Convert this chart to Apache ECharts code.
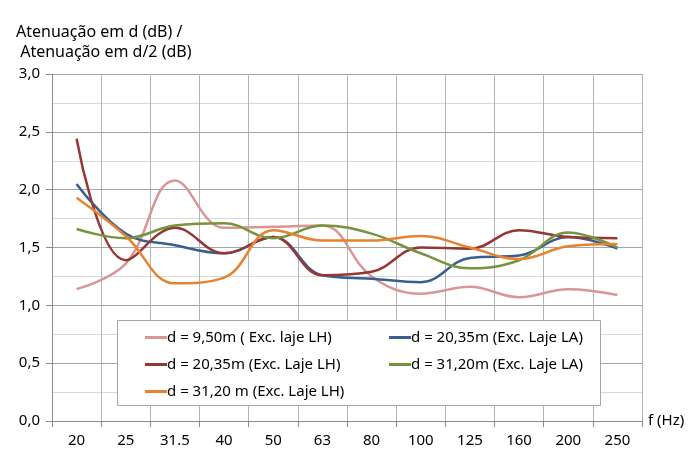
<!DOCTYPE html>
<html>
<head>
<meta charset="utf-8">
<script src="https://cdn.jsdelivr.net/npm/echarts@6/dist/echarts.min.js"></script>
<style>
  html, body { margin: 0; padding: 0; background: #fff; }
  #box { width: 692px; height: 450px; }
</style>
</head>
<body>
<div id="box"></div>
<script>
var freqs = ['20', '25', '31.5', '40', '50', '63', '80', '100', '125', '160', '200', '250'];
var yTicks = ['0,0', '0,5', '1,0', '1,5', '2,0', '2,5', '3,0'];

var d950LH  = [1.14, 1.36, 2.08, 1.67, 1.68, 1.69, 1.25, 1.10, 1.16, 1.07, 1.14, 1.09];
var d2035LA = [2.05, 1.62, 1.52, 1.45, 1.59, 1.26, 1.23, 1.20, 1.41, 1.43, 1.59, 1.49];
var d2035LH = [2.44, 1.39, 1.67, 1.45, 1.59, 1.26, 1.29, 1.50, 1.49, 1.65, 1.59, 1.58];
var d3120LA = [1.66, 1.58, 1.69, 1.71, 1.58, 1.69, 1.62, 1.45, 1.32, 1.39, 1.63, 1.50];
var d3120LH = [1.93, 1.60, 1.19, 1.24, 1.65, 1.56, 1.56, 1.60, 1.50, 1.40, 1.51, 1.53];

var names = [
  'd = 9,50m ( Exc. laje LH)',
  'd = 20,35m (Exc. Laje LA)',
  'd = 20,35m (Exc. Laje LH)',
  'd = 31,20m (Exc. Laje LA)',
  'd = 31,20 m (Exc. Laje LH)'
];
var colors = ['#D99694', '#376092', '#953735', '#77933C', '#E8822E'];
var values = [d950LH, d2035LA, d2035LH, d3120LA, d3120LH];

var font = '"Noto Sans", sans-serif';
var chart = echarts.init(document.getElementById('box'));

var series = values.map(function(v, i) {
  return {
    name: names[i],
    type: 'line',
    data: v,
    smooth: 0.4,
    showSymbol: false,
    symbol: 'none',
    z: 3,
    lineStyle: { color: colors[i], width: 2.5 },
    itemStyle: { color: colors[i] }
  };
});

var legendCommon = {
  orient: 'vertical',
  icon: 'rect',
  itemWidth: 22,
  itemHeight: 3,
  itemGap: 12,
  z: 20,
  textStyle: { fontFamily: font, fontSize: 15, color: '#000', padding: [0, 0, 0, -5] }
};

option = {
  animation: false,
  title: {
    text: 'Atenuação em d (dB) /\n Atenuação em d/2 (dB)',
    left: 11,
    top: 17,
    textStyle: { fontFamily: font, fontSize: 16, fontWeight: 'normal', color: '#000', lineHeight: 20 }
  },
  grid: { left: 52, right: 50, top: 74, bottom: 29, containLabel: false },
  xAxis: {
    type: 'category',
    data: freqs,
    boundaryGap: true,
    name: 'f (Hz)',
    nameLocation: 'end',
    nameGap: 6,
    nameTextStyle: { fontFamily: font, fontSize: 15, color: '#000', verticalAlign: 'middle' },
    axisLine: { lineStyle: { color: '#8C8C8C' } },
    axisTick: { show: true, length: 6, lineStyle: { color: '#8C8C8C' } },
    axisLabel: { fontFamily: font, fontSize: 15, color: '#000', margin: 12 },
    splitLine: { show: true, lineStyle: { color: '#B4B4B4' } }
  },
  yAxis: {
    type: 'value',
    min: 0,
    max: 3,
    interval: 0.5,
    axisLine: { show: true, lineStyle: { color: '#8C8C8C' } },
    axisTick: { show: true, length: 6, lineStyle: { color: '#8C8C8C' } },
    axisLabel: {
      fontFamily: font, fontSize: 15, color: '#000', margin: 12,
      formatter: function(v) { return yTicks[Math.round(v * 2)]; }
    },
    splitLine: { show: true, lineStyle: { color: '#A6A6A6' } },
    minorTick: { show: false, splitNumber: 2 },
    minorSplitLine: { show: true, lineStyle: { color: '#D9D9D9' } }
  },
  legend: [
    Object.assign({}, legendCommon, { left: 140, top: 325, data: [names[0], names[2], names[4]] }),
    Object.assign({}, legendCommon, { left: 384, top: 325, data: [names[1], names[3]] })
  ],
  graphic: [{
    type: 'rect',
    z: 15,
    shape: { x: 117.5, y: 320.5, width: 483, height: 85 },
    style: { fill: '#fff', stroke: '#A6A6A6', lineWidth: 1 }
  }],
  series: series
};

chart.setOption(option);
</script>
</body>
</html>
